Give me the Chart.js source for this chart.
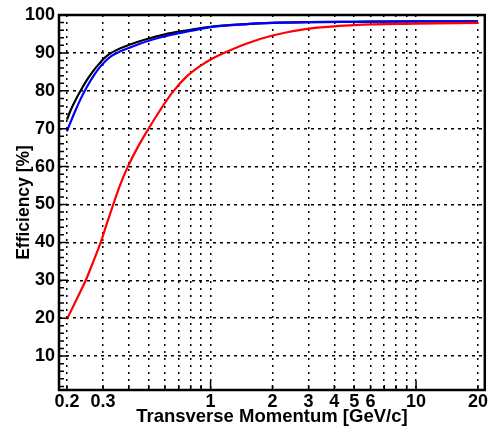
<!DOCTYPE html>
<html>
<head>
<meta charset="utf-8">
<script src="https://cdn.jsdelivr.net/npm/chart.js@4.4.1/dist/chart.umd.min.js"></script>
<style>
  html, body { margin: 0; padding: 0; background: #fff; }
  #wrap { width: 489px; height: 428px; }
</style>
</head>
<body>
<div id="wrap"><canvas id="chart" width="489" height="428"></canvas></div>
<script>
// transverse momentum points [GeV/c] and efficiency [%] per curve
const ptBlack  = [0.2, 0.209, 0.22, 0.233, 0.25, 0.27, 0.29, 0.3, 0.32, 0.35, 0.4, 0.5, 0.6, 0.7, 0.8, 1.0, 1.5, 2, 3, 5, 10, 20];
const effBlack = [72.4, 75.0, 77.5, 80.0, 82.8, 85.4, 87.4, 88.3, 89.6, 90.8, 92.1, 93.8, 94.9, 95.6, 96.1, 96.9, 97.6, 97.9, 98.1, 98.2, 98.3, 98.3];

const ptBlue   = [0.2, 0.21, 0.22, 0.233, 0.25, 0.27, 0.29, 0.31, 0.33, 0.35, 0.4, 0.5, 0.6, 0.7, 0.8, 1.0, 1.5, 2, 3, 5, 10, 20];
const effBlue  = [69.3, 72.2, 74.8, 77.8, 81.0, 84.0, 86.3, 88.0, 89.2, 90.0, 91.3, 93.2, 94.4, 95.2, 95.8, 96.8, 97.6, 97.9, 98.1, 98.2, 98.3, 98.3];

const ptRed    = [0.2, 0.223, 0.247, 0.269, 0.292, 0.313, 0.336, 0.362, 0.396, 0.441, 0.499, 0.567, 0.651, 0.759, 0.888, 1.022, 1.175, 1.503, 2, 3, 5, 10, 20];
const effRed   = [19.7, 25.0, 30.0, 35.0, 40.0, 45.0, 50.0, 55.0, 60.0, 65.0, 70.0, 74.8, 79.5, 83.6, 86.5, 88.5, 90.1, 92.5, 94.6, 96.4, 97.35, 97.7, 97.9];

const xGridValues  = [0.2, 0.3, 0.4, 0.5, 0.6, 0.7, 0.8, 0.9, 1, 2, 3, 4, 5, 6, 7, 8, 9, 10, 20];
const xLabelValues = [0.2, 0.3, 1, 2, 3, 4, 5, 6, 10, 20];
const xMajorValues = [1, 10];
const yGridValues  = [10, 20, 30, 40, 50, 60, 70, 80, 90, 100];
const yMinorValues = [2, 4, 6, 8, 10, 12, 14, 16, 18, 20, 22, 24, 26, 28, 30, 32, 34, 36, 38, 40, 42, 44, 46, 48, 50,
                      52, 54, 56, 58, 60, 62, 64, 66, 68, 70, 72, 74, 76, 78, 80, 82, 84, 86, 88, 90, 92, 94, 96, 98];

const toPoints = (xs, ys) => xs.map((x, i) => ({ x, y: ys[i] }));
const family = "'Liberation Sans', Arial, sans-serif";
const tickFont = { family, weight: 'bold', size: 18 };

// ROOT-style frame with inward ticks
const frameTicks = {
  id: 'frameTicks',
  afterDatasetsDraw(chart) {
    const { ctx, chartArea: a, scales: { x, y } } = chart;
    ctx.save();
    ctx.strokeStyle = '#000';
    ctx.lineWidth = 1.5;
    ctx.beginPath();
    yMinorValues.forEach(v => {
      const p = y.getPixelForValue(v);
      ctx.moveTo(a.left, p);
      ctx.lineTo(a.left + (v % 10 === 0 ? 9 : 5), p);
    });
    xGridValues.forEach(v => {
      const p = x.getPixelForValue(v);
      ctx.moveTo(p, a.bottom);
      ctx.lineTo(p, a.bottom - (xMajorValues.includes(v) ? 9 : 5));
    });
    ctx.stroke();
    ctx.lineWidth = 2.5;
    ctx.strokeRect(a.left, a.top, a.right - a.left, a.bottom - a.top);
    ctx.restore();
  }
};

new Chart(document.getElementById('chart'), {
  type: 'line',
  data: {
    datasets: [
      { data: toPoints(ptBlack, effBlack), borderColor: '#000000', order: 3 },
      { data: toPoints(ptBlue, effBlue), borderColor: '#0000ff', order: 2 },
      { data: toPoints(ptRed, effRed), borderColor: '#ff0000', order: 1 }
    ]
  },
  options: {
    responsive: false,
    animation: false,
    devicePixelRatio: 1,
    layout: { padding: { top: 15, right: 4, left: 0, bottom: 0 } },
    elements: {
      point: { radius: 0 },
      line: { borderWidth: 2.2, cubicInterpolationMode: 'monotone', fill: false }
    },
    plugins: { legend: { display: false }, tooltip: { enabled: false } },
    scales: {
      x: {
        type: 'logarithmic',
        min: 0.183,
        max: 21.6,
        afterBuildTicks: s => { s.ticks = xGridValues.map(v => ({ value: v })); },
        afterFit: s => { s.height = 38; },
        ticks: {
          autoSkip: false,
          maxRotation: 0,
          color: '#000',
          font: tickFont,
          padding: 1,
          callback: v => xLabelValues.includes(v) ? String(v) : ''
        },
        grid: { color: '#000', lineWidth: 1.5, drawTicks: false },
        border: { display: false, dash: [2, 5] },
        title: {
          display: true, text: 'Transverse Momentum [GeV/c]', color: '#000',
          font: { family, weight: 'bold', size: 18.5 }, padding: 0
        }
      },
      y: {
        type: 'linear',
        min: 1.05,
        max: 100,
        afterBuildTicks: s => { s.ticks = yGridValues.map(v => ({ value: v })); },
        afterFit: s => { s.width = 59; },
        ticks: { color: '#000', font: tickFont, padding: 4 },
        grid: { color: '#000', lineWidth: 1.5, drawTicks: false },
        border: { display: false, dash: [3, 4] },
        title: {
          display: true, text: 'Efficiency [%]', color: '#000',
          font: { family, weight: 'bold', size: 17.5 }, padding: { top: 14, bottom: 0 }
        }
      }
    }
  },
  plugins: [frameTicks]
});
</script>
</body>
</html>
